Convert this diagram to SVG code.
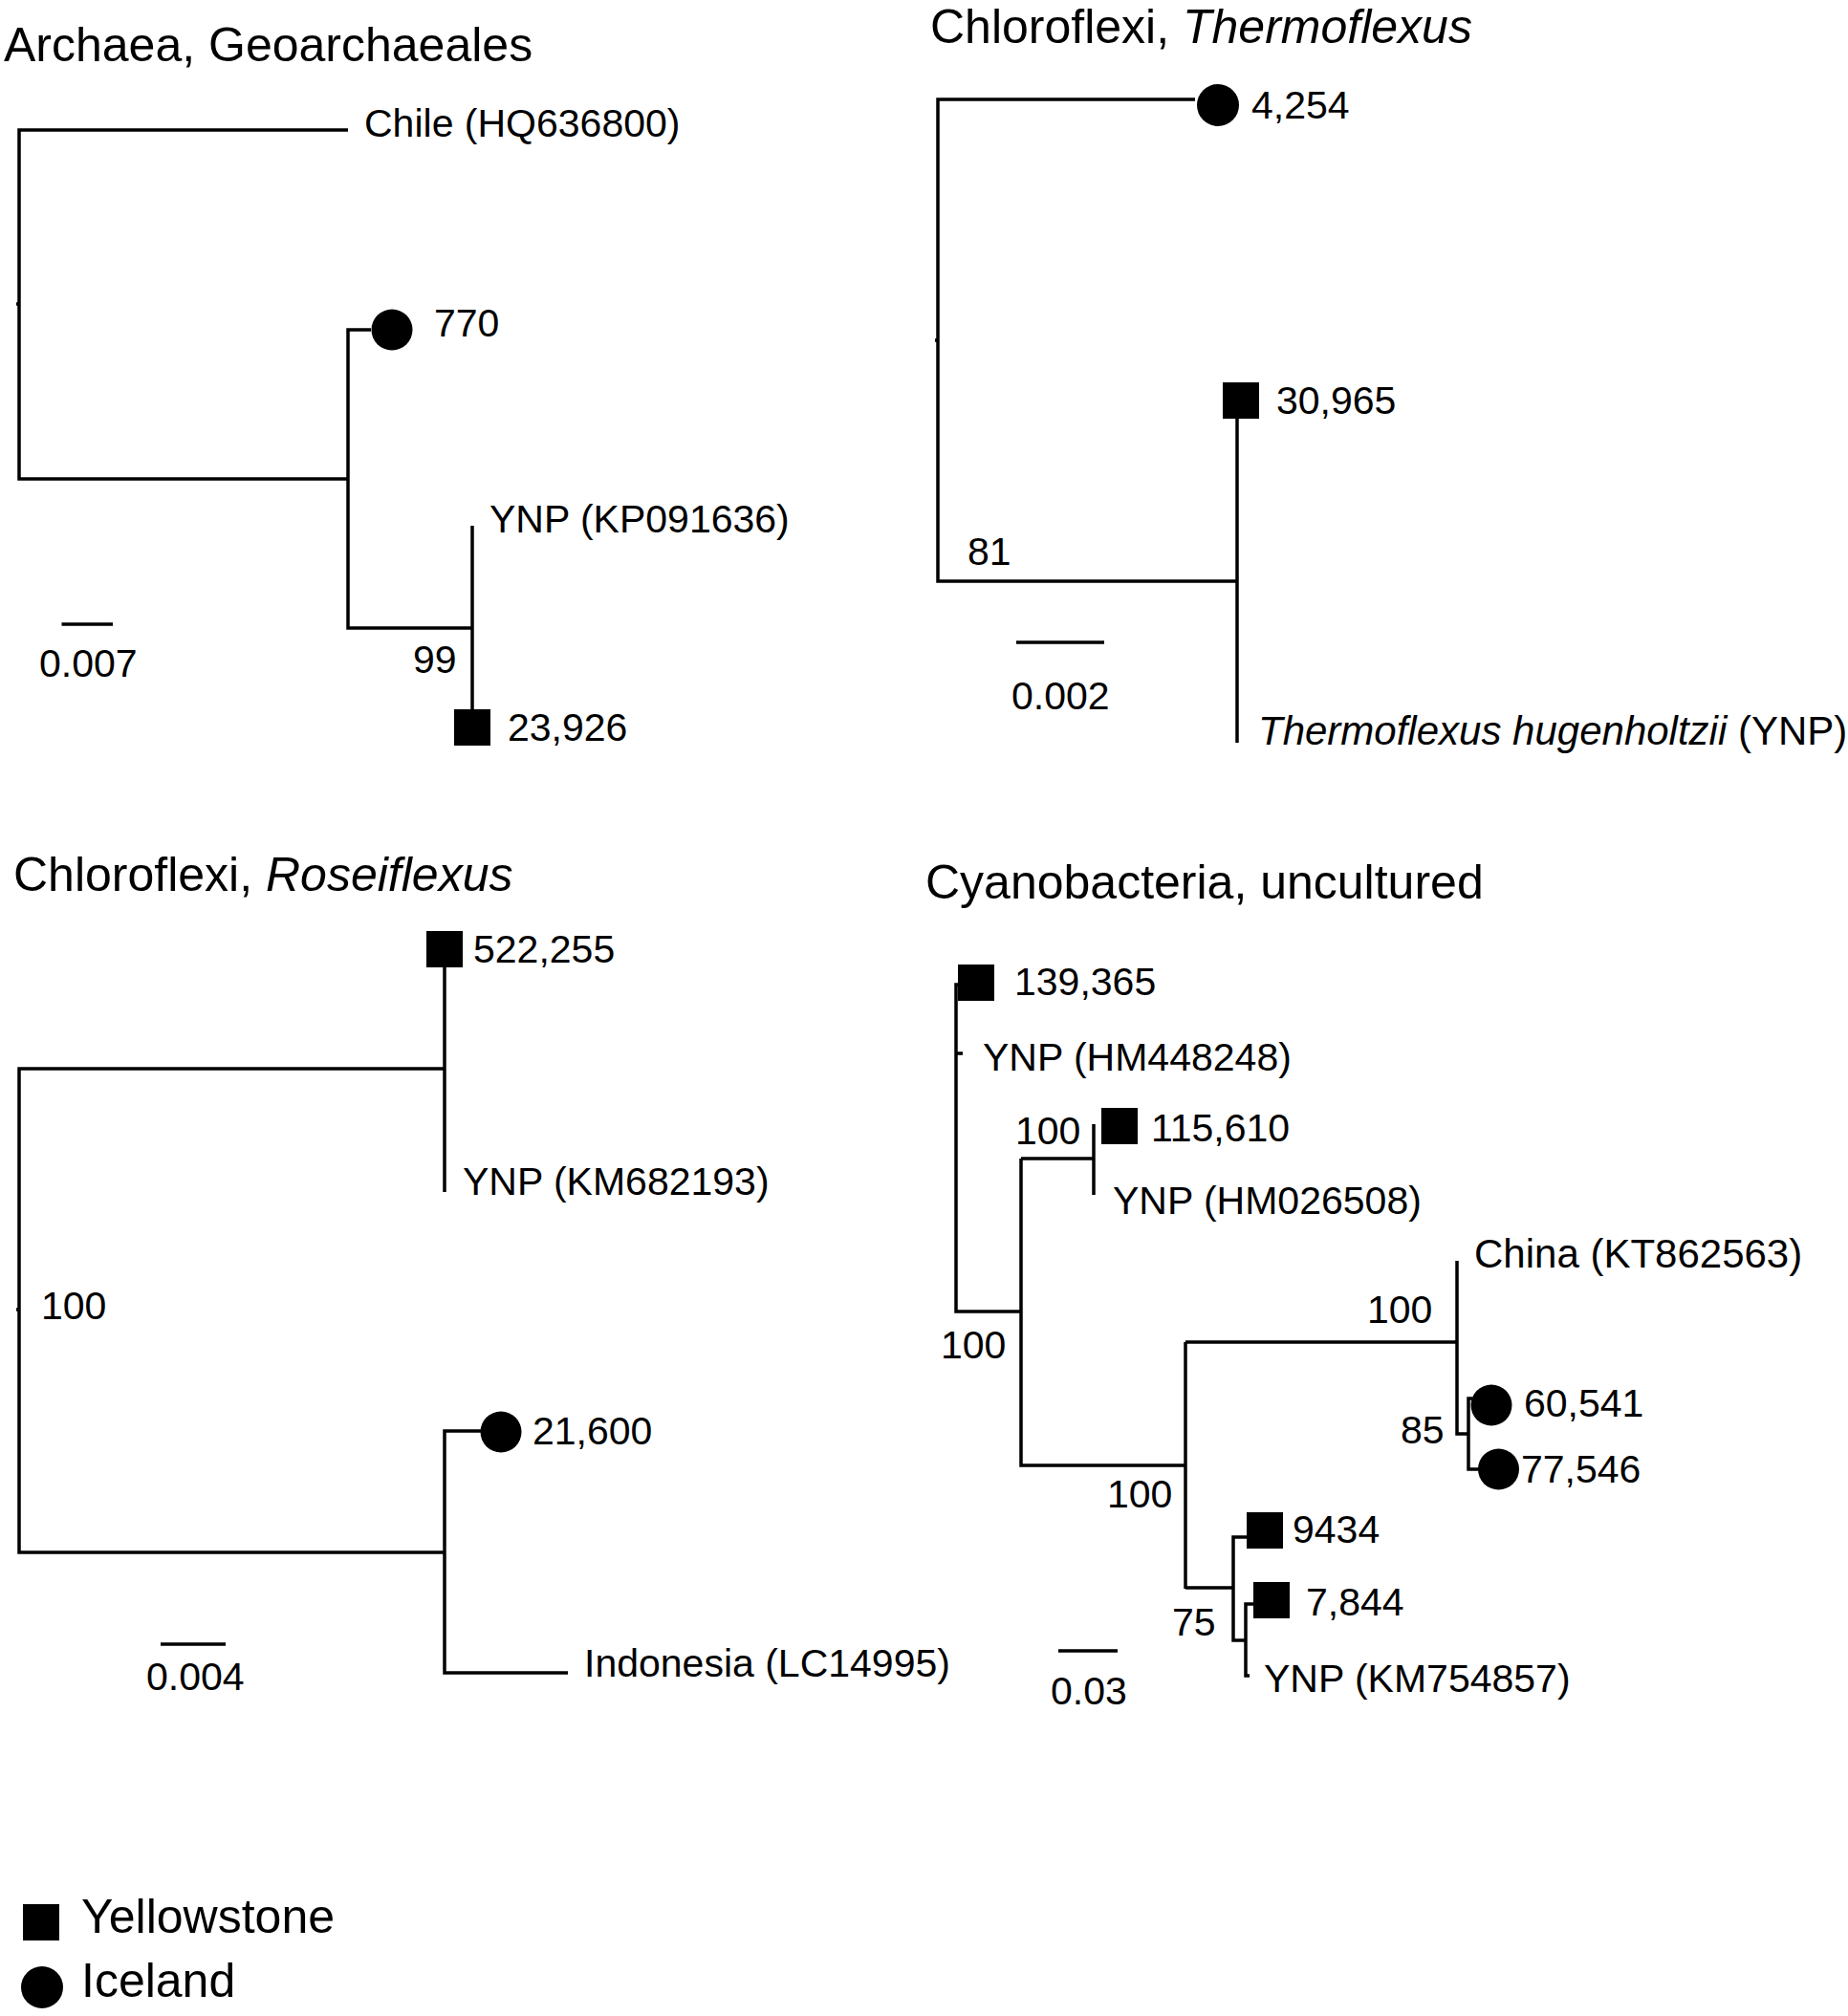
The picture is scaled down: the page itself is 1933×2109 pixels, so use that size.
<svg xmlns="http://www.w3.org/2000/svg" width="1933" height="2109" viewBox="0 0 1933 2109">
<style>
text{font-family:"Liberation Sans",Arial,Helvetica,sans-serif;fill:#000}
.t{font-size:50px}
.l{font-size:41px}
.w{font-size:42px}
.i{font-style:italic}
.e{fill:none;stroke:#000;stroke-width:3.5;stroke-linejoin:miter;stroke-linecap:butt}
.m{fill:#000}
</style>
<rect width="1933" height="2109" fill="#fff"/>
<g id="connectors">
  <path class="e" d="M364,136 H20 V501 H364 M17,318 H20 M388,345 H364 V657 H494 M494,550 V742 M64.5,653 H118"/>
  <path class="e" d="M1250,104 H981 V608 H1294 M978,356 H981 M1294,438 V777 M1063,672 H1155"/>
  <path class="e" d="M465,1118 H20 V1624 H465 M17,1370 H20 M465,1012 V1247 M503,1497 H465 V1750 H594 M168,1720 H236"/>
  <path class="e" d="M1003,1030 H1000 V1372 H1068 M1000,1102 H1007 M1068,1212 H1144 M1144,1176 V1250 M1068,1212 V1533 H1240 M1240,1404 V1662 M1240,1404 H1524 M1524,1319 V1500 H1536 M1540,1463 H1536 V1537 H1548 M1240,1661 H1290 M1304,1608 H1290 V1716 H1303 M1311,1678 H1303 V1753 H1307 M1107,1727 H1169"/>
</g>
<g id="panel-archaea">
  <text class="t" x="4" y="64">Archaea, Geoarchaeales</text>
  <g id="chile"><text class="l" x="381" y="143">Chile (HQ636800)</text></g>
  <g id="n770"><circle class="m" cx="410" cy="345" r="21.5"/><text class="l" x="454" y="352">770</text></g>
  <g id="ynp-kp"><text class="l" x="512" y="557">YNP (KP091636)</text></g>
  <g id="b99"><text class="l" x="432" y="704">99</text></g>
  <g id="n23926"><rect class="m" x="475" y="742" width="38" height="38"/><text class="l" x="531" y="775">23,926</text></g>
  <g id="scale1"><text class="l" x="41" y="708">0.007</text></g>
</g>
<g id="panel-thermoflexus">
  <text class="t" x="973" y="45">Chloroflexi, <tspan class="i">Thermoflexus</tspan></text>
  <g id="n4254"><circle class="m" cx="1274" cy="110" r="22"/><text class="l" x="1309" y="124">4,254</text></g>
  <g id="n30965"><rect class="m" x="1279" y="400" width="38" height="38"/><text class="l" x="1335" y="433">30,965</text></g>
  <g id="b81"><text class="l" x="1012" y="591">81</text></g>
  <g id="thermo"><text class="w" x="1316" y="779"><tspan class="i">Thermoflexus hugenholtzii</tspan> (YNP)</text></g>
  <g id="scale2"><text class="l" x="1058" y="742">0.002</text></g>
</g>
<g id="panel-roseiflexus">
  <text class="t" x="14" y="932">Chloroflexi, <tspan class="i">Roseiflexus</tspan></text>
  <g id="n522255"><rect class="m" x="446" y="974" width="38" height="38"/><text class="l" x="495" y="1007">522,255</text></g>
  <g id="ynp-km68"><text class="l" x="484" y="1250">YNP (KM682193)</text></g>
  <g id="b100a"><text class="l" x="43" y="1380">100</text></g>
  <g id="n21600"><circle class="m" cx="524" cy="1498" r="21.5"/><text class="l" x="557" y="1511">21,600</text></g>
  <g id="indonesia"><text class="l" x="611" y="1754">Indonesia (LC14995)</text></g>
  <g id="scale3"><text class="l" x="153" y="1768">0.004</text></g>
</g>
<g id="panel-cyano">
  <text class="t" x="968" y="940">Cyanobacteria, uncultured</text>
  <g id="n139365"><rect class="m" x="1002" y="1009" width="38" height="38"/><text class="l" x="1061" y="1041">139,365</text></g>
  <g id="ynp-hm44"><text class="l" x="1028" y="1120">YNP (HM448248)</text></g>
  <g id="b100b"><text class="l" x="1062" y="1197">100</text></g>
  <g id="n115610"><rect class="m" x="1152" y="1159" width="38" height="38"/><text class="l" x="1204" y="1194">115,610</text></g>
  <g id="ynp-hm02"><text class="l" x="1164" y="1270">YNP (HM026508)</text></g>
  <g id="b100c"><text class="l" x="984" y="1421">100</text></g>
  <g id="china"><text class="w" x="1542" y="1326">China (KT862563)</text></g>
  <g id="b100d"><text class="l" x="1430" y="1384">100</text></g>
  <g id="b85"><text class="l" x="1465" y="1510">85</text></g>
  <g id="n60541"><circle class="m" cx="1560" cy="1470" r="21.5"/><text class="l" x="1594" y="1482">60,541</text></g>
  <g id="n77546"><circle class="m" cx="1567.5" cy="1537" r="21.5"/><text class="l" x="1591" y="1551">77,546</text></g>
  <g id="b100e"><text class="l" x="1158" y="1577">100</text></g>
  <g id="n9434"><rect class="m" x="1304" y="1582" width="38" height="38"/><text class="l" x="1352" y="1614">9434</text></g>
  <g id="n7844"><rect class="m" x="1311" y="1655" width="38" height="38"/><text class="l" x="1366" y="1690">7,844</text></g>
  <g id="b75"><text class="l" x="1226" y="1711">75</text></g>
  <g id="ynp-km75"><text class="l" x="1322" y="1770">YNP (KM754857)</text></g>
  <g id="scale4"><text class="l" x="1099" y="1783">0.03</text></g>
</g>
<g id="legend">
  <g id="leg-yellowstone"><rect class="m" x="24" y="1992" width="38" height="38"/><text class="t" x="85" y="2022">Yellowstone</text></g>
  <g id="leg-iceland"><circle class="m" cx="44" cy="2079" r="22"/><text class="t" x="85" y="2089">Iceland</text></g>
</g>
</svg>
